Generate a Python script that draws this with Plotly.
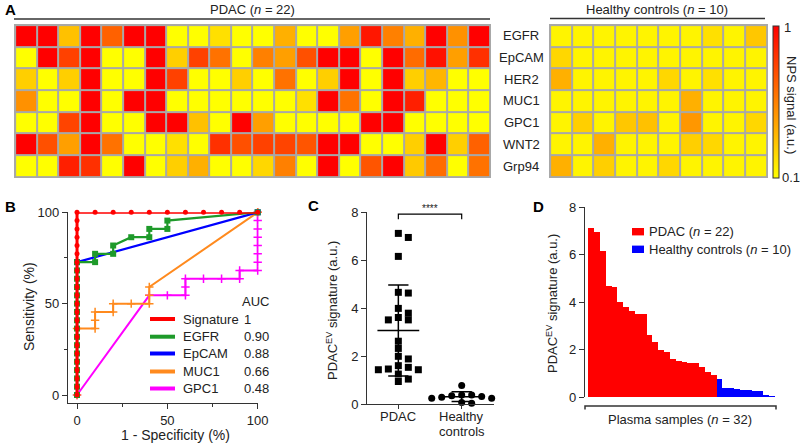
import numpy as np
import plotly.graph_objects as go

W, H = 800, 443


def px(x):
    return x / W


def py(y):
    return 1 - y / H


FONT = "Arial, 'Liberation Sans', sans-serif"
TXT = "#222222"
AX = "#333333"

# ---------------- Panel A data ----------------
MARKERS = ["EGFR", "EpCAM", "HER2", "MUC1", "GPC1", "WNT2", "Grp94"]
PDAC_NPS = [
    [1.0, 1.0, 0.32, 1.0, 0.66, 1.0, 1.0, 0.1, 0.1, 0.21, 0.1, 0.1, 0.38, 0.1, 0.1, 0.44, 0.92, 0.55, 0.38, 1.0, 0.49, 1.0],
    [0.1, 1.0, 0.77, 1.0, 0.1, 0.1, 1.0, 0.27, 0.77, 0.60, 0.1, 0.55, 0.44, 0.72, 1.0, 1.0, 0.1, 1.0, 0.62, 0.94, 0.44, 0.83],
    [0.27, 0.1, 0.27, 1.0, 0.1, 0.1, 1.0, 0.77, 0.1, 0.1, 0.27, 0.1, 0.60, 0.1, 0.27, 1.0, 0.1, 1.0, 0.27, 0.36, 0.1, 0.1],
    [0.49, 0.1, 0.1, 1.0, 0.1, 1.0, 1.0, 0.1, 0.1, 0.1, 0.1, 0.1, 0.1, 0.21, 1.0, 0.60, 0.1, 1.0, 0.89, 0.1, 0.1, 0.1],
    [0.1, 0.1, 0.76, 1.0, 0.1, 0.1, 1.0, 1.0, 0.32, 0.1, 1.0, 0.44, 0.1, 0.1, 0.1, 0.1, 1.0, 1.0, 0.1, 0.1, 0.1, 0.1],
    [1.0, 0.72, 0.44, 1.0, 0.60, 0.1, 0.1, 0.21, 0.1, 0.83, 0.72, 0.77, 0.76, 0.70, 1.0, 1.0, 0.1, 0.1, 0.27, 1.0, 0.27, 0.66],
    [0.1, 0.1, 0.89, 0.83, 0.1, 1.0, 0.1, 0.27, 0.38, 0.1, 0.1, 0.24, 0.55, 0.1, 1.0, 0.1, 0.70, 1.0, 0.29, 0.62, 0.1, 0.60],
]
HEALTHY_NPS = [
    [0.14, 0.14, 0.14, 0.14, 0.14, 0.14, 0.14, 0.21, 0.14, 0.30],
    [0.24, 0.14, 0.14, 0.14, 0.14, 0.14, 0.14, 0.14, 0.14, 0.14],
    [0.38, 0.14, 0.14, 0.14, 0.14, 0.24, 0.14, 0.21, 0.14, 0.14],
    [0.14, 0.14, 0.14, 0.14, 0.14, 0.14, 0.38, 0.14, 0.14, 0.14],
    [0.14, 0.27, 0.14, 0.30, 0.32, 0.14, 0.47, 0.14, 0.14, 0.24],
    [0.14, 0.14, 0.38, 0.14, 0.14, 0.14, 0.27, 0.24, 0.14, 0.14],
    [0.38, 0.14, 0.27, 0.14, 0.14, 0.24, 0.14, 0.14, 0.14, 0.14],
]

# ---------------- Panel B data (ROC steps: false positives of 10, true positives of 22) ----------------
N_CONTROLS = 10
N_PDAC = 22
ROC_NAMES = ["Signature", "EGFR", "EpCAM", "MUC1", "GPC1"]
ROC_AUC = ["1", "0.90", "0.88", "0.66", "0.48"]
ROC_COLORS = ["#FF0000", "#1E9A2A", "#0000FF", "#FF8A1E", "#FF00FF"]
SIG_FP = [0] * 23 + [1, 2, 3, 4, 5, 6, 7, 8, 9, 10]
SIG_TP = [0, 1, 2, 3, 4, 5, 6, 7, 8, 9, 10, 11, 12, 13, 14, 15, 16, 17, 18, 19, 20, 21, 22] + [22] * 10
EGFR_FP = [0] * 17 + [1, 1, 2, 2, 3, 4, 4, 5, 5, 10]
EGFR_TP = [0, 1, 2, 3, 4, 5, 6, 7, 8, 9, 10, 11, 12, 13, 14, 15, 16] + [16, 17, 17, 18, 19, 19, 20, 20, 21, 22]
EPCAM_FP = [0, 0, 10]
EPCAM_TP = [0, 16, 22]
MUC1_FP = [0, 0, 1, 1, 1, 2, 2, 3, 4, 4, 4, 10]
MUC1_TP = [0, 8, 8, 9, 10, 10, 11, 11, 11, 12, 13, 22]
GPC1_FP = [0, 4, 5, 6, 6, 6, 7, 8, 9, 9, 10, 10, 10, 10, 10, 10, 10, 10]
GPC1_TP = [0, 12, 12, 12, 13, 14, 14, 14, 14, 15, 15, 16, 17, 18, 19, 20, 21, 22]

# ---------------- Panels C/D data ----------------
PDAC_SIGNATURE = [7.12, 6.95, 6.16, 4.66, 4.63, 3.99, 3.79, 3.61, 3.51, 3.51, 2.62,
                  2.32, 1.99, 1.88, 1.60, 1.53, 1.46, 1.43, 1.43, 1.25, 1.04, 0.94]
HEALTHY_SIGNATURE = [0.77, 0.38, 0.38, 0.34, 0.31, 0.28, 0.24, 0.24, 0.06, 0.03]
GROUPS = [["PDAC"], ["Healthy", "controls"]]

fig = go.Figure()

# ---------------- Panel A ----------------
fig.add_trace(go.Heatmap(z=PDAC_NPS, x=list(range(len(PDAC_NPS[0]))), y=list(range(len(MARKERS))),
                         coloraxis="coloraxis", xgap=2, ygap=2, xaxis="x", yaxis="y", hoverinfo="skip"))
fig.add_trace(go.Heatmap(z=HEALTHY_NPS, x=list(range(len(HEALTHY_NPS[0]))), y=list(range(len(MARKERS))),
                         coloraxis="coloraxis", xgap=2, ygap=2, xaxis="x2", yaxis="y2", hoverinfo="skip"))

# ---------------- Panel B ----------------
roc_sets = [(SIG_FP, SIG_TP), (EGFR_FP, EGFR_TP), (EPCAM_FP, EPCAM_TP), (MUC1_FP, MUC1_TP), (GPC1_FP, GPC1_TP)]
roc_marker = [dict(symbol="circle", size=5), dict(symbol="square", size=6),
              dict(symbol="square", size=0), dict(symbol="cross-thin", size=6, line=dict(width=1.5, color=ROC_COLORS[3])),
              dict(symbol="cross-thin", size=6, line=dict(width=1.5, color=ROC_COLORS[4]))]
roc_width = [3, 2.2, 2.2, 2, 2]
for i in [4, 3, 2, 1, 0]:
    fp, tp = roc_sets[i]
    m = dict(roc_marker[i])
    m["color"] = ROC_COLORS[i]
    fig.add_trace(go.Scatter(x=[100 * v / N_CONTROLS for v in fp], y=[100 * v / N_PDAC for v in tp],
                             mode="lines+markers", line=dict(color=ROC_COLORS[i], width=roc_width[i]),
                             marker=m, xaxis="x3", yaxis="y3", cliponaxis=False, showlegend=False, hoverinfo="skip"))

# ---------------- Panel C (beeswarm) ----------------
C_PX_X = 63.4   # px per category unit
C_PX_Y = 23.96  # px per signature unit


def swarm(values, step_px=5.0, size_px=5.5):
    order = np.argsort(values)[::-1]
    placed = []
    offs = np.zeros(len(values))
    for idx in order:
        v = values[idx]
        k = 0
        while True:
            cands = [0] if k == 0 else [k, -k]
            ok = None
            for c in cands:
                dx = c * step_px
                if all(not (abs(dx - pdx) < size_px and abs((v - pv) * C_PX_Y) < size_px) for pdx, pv in placed):
                    ok = dx
                    break
            if ok is not None:
                placed.append((ok, v))
                offs[idx] = ok / C_PX_X
                break
            k += 1
    return offs


groups_vals = [np.array(PDAC_SIGNATURE), np.array(HEALTHY_SIGNATURE)]
symbols = ["square", "circle"]
for gi, vals in enumerate(groups_vals):
    offs = swarm(vals)
    fig.add_trace(go.Scatter(x=gi + offs, y=vals, mode="markers",
                             marker=dict(symbol=symbols[gi], size=7, color="black"),
                             xaxis="x4", yaxis="y4", cliponaxis=False, showlegend=False, hoverinfo="skip"))

# ---------------- Panel D ----------------
d_pdac = sorted(PDAC_SIGNATURE, reverse=True)
d_healthy = sorted(HEALTHY_SIGNATURE, reverse=True)
ranks = list(range(1, len(d_pdac) + len(d_healthy) + 1))
fig.add_trace(go.Bar(x=ranks[:len(d_pdac)], y=d_pdac, width=1, marker=dict(color="#FF0000", line=dict(width=0)),
                     xaxis="x5", yaxis="y5", showlegend=False, hoverinfo="skip"))
fig.add_trace(go.Bar(x=ranks[len(d_pdac):], y=d_healthy, width=1, marker=dict(color="#0000FF", line=dict(width=0)),
                     xaxis="x5", yaxis="y5", showlegend=False, hoverinfo="skip"))

shapes = []
ann = []


def text(x, y, s, size=13, xanchor="center", yanchor="middle", angle=0, bold=False, color=TXT):
    ann.append(dict(x=px(x), y=py(y), xref="paper", yref="paper", text=("<b>%s</b>" % s) if bold else s,
                    showarrow=False, xanchor=xanchor, yanchor=yanchor, textangle=angle,
                    font=dict(size=size, family=FONT, color=color)))


def hline(x0, x1, y, width=1.5, color=AX):
    shapes.append(dict(type="line", xref="paper", yref="paper", x0=px(x0), x1=px(x1), y0=py(y), y1=py(y),
                       line=dict(color=color, width=width)))


# heatmap gray grid backgrounds
for xr, yr in [("x", "y"), ("x2", "y2")]:
    shapes.append(dict(type="rect", xref=xr + " domain", yref=yr + " domain", x0=0, x1=1, y0=0, y1=1,
                       fillcolor="#A8A8A8", line=dict(width=0), layer="below"))

text(252, 10, "PDAC (<i>n</i> = 22)")
hline(14, 490, 19)
text(657, 10, "Healthy controls (<i>n</i> = 10)")
hline(550, 765, 18.5)
for i, mk in enumerate(MARKERS):
    ann.append(dict(x=px(521), y=i, xref="paper", yref="y", text=mk, showarrow=False, xanchor="center",
                    yanchor="middle", font=dict(size=13, family=FONT, color=TXT)))
text(792, 105, "NPS signal (a.u.)", angle=90)
text(781.5, 28, "1", xanchor="left")
text(779.5, 177, "0.1", xanchor="left")

# panel letters
text(3, 10, "A", size=15, xanchor="left", bold=True, color="black")
text(3, 207, "B", size=15, xanchor="left", bold=True, color="black")
text(306, 205, "C", size=15, xanchor="left", bold=True, color="black")
text(531, 207, "D", size=15, xanchor="left", bold=True, color="black")

# Panel B legend
leg_y = [319, 336.7, 353.5, 371.5, 388.5]
text(240, 301, "AUC", xanchor="left")
for i, nm in enumerate(ROC_NAMES):
    hline(150, 175, leg_y[i], width=4, color=ROC_COLORS[i])
    text(181, leg_y[i], nm, xanchor="left")
    text(242, leg_y[i], ROC_AUC[i], xanchor="left")
text(175, 434.5, "1 - Specificity (%)", size=14)
text(29, 306, "Sensitivity (%)", angle=-90, size=14)

# Panel C extras
for gi, vals in enumerate(groups_vals):
    m = float(np.mean(vals))
    sd = float(np.std(vals, ddof=1))
    for (a, b, y0, y1) in [(gi - 0.33, gi + 0.33, m, m), (gi - 0.16, gi + 0.16, m + sd, m + sd),
                           (gi - 0.16, gi + 0.16, m - sd, m - sd), (gi, gi, m - sd, m + sd)]:
        shapes.append(dict(type="line", xref="x4", yref="y4", x0=a, x1=b, y0=y0, y1=y1,
                           line=dict(color="black", width=1.5)))
    for li, line_txt in enumerate(GROUPS[gi]):
        ann.append(dict(x=gi, y=py(416 + 15 * li), xref="x4", yref="paper", text=line_txt, showarrow=False,
                        xanchor="center", yanchor="middle", font=dict(size=13, family=FONT, color=TXT)))
br_top = max(PDAC_SIGNATURE) + 0.8
shapes.append(dict(type="path", xref="x4", yref="y4",
                   path="M 0,%.3f L 0,%.3f L 1,%.3f L 1,%.3f" % (br_top - 0.21, br_top, br_top, br_top - 0.21),
                   line=dict(color="black", width=1.2)))
ann.append(dict(x=0.5, y=br_top, xref="x4", yref="y4", text="****", showarrow=False, yanchor="bottom",
                yshift=-2, font=dict(size=10, family=FONT, color=TXT)))
text(332, 311, "PDAC<sup>EV</sup> signature (a.u.)", angle=-90)

# Panel D extras
shapes.append(dict(type="path", xref="paper", yref="paper",
                   path="M %f,%f L %f,%f L %f,%f L %f,%f" % (px(585), py(409.5), px(585), py(406),
                                                               px(776), py(406), px(776), py(409.5)),
                   line=dict(color=AX, width=1.5)))
text(680, 419, "Plasma samples (<i>n</i> = 32)")
text(552, 304, "PDAC<sup>EV</sup> signature (a.u.)", angle=-90)
for yy, col, lab in [(231.7, "#FF0000", "PDAC (<i>n</i> = 22)"), (249.3, "#0000FF", "Healthy controls (<i>n</i> = 10)")]:
    shapes.append(dict(type="rect", xref="paper", yref="paper", x0=px(632), x1=px(644), y0=py(yy + 3.7),
                       y1=py(yy - 3.7), fillcolor=col, line=dict(width=0)))
    text(647, yy, lab, xanchor="left")

axis_common = dict(showline=True, linecolor=AX, linewidth=1.4, ticks="outside", ticklen=5, tickwidth=1.4,
                   tickcolor=AX, showgrid=False, zeroline=False, tickfont=dict(size=13, family=FONT, color=TXT))

fig.update_layout(
    width=W, height=H, margin=dict(l=0, r=0, t=0, b=0, autoexpand=False),
    paper_bgcolor="white", plot_bgcolor="white", showlegend=False, bargap=0,
    font=dict(family=FONT, size=13, color=TXT),
    coloraxis=dict(cmin=0.1, cmax=1, colorscale=[[0, "#FFFF00"], [0.5, "#FF8000"], [1, "#FF0000"]],
                   colorbar=dict(x=px(773.3), xanchor="left", thickness=6, thicknessmode="pixels",
                                 len=152 / H, lenmode="fraction", y=py(25.7), yanchor="top",
                                 outlinewidth=1, outlinecolor="#333333", showticklabels=False,
                                 ticks="", xpad=0, ypad=0)),
    xaxis=dict(domain=[px(14), px(491)], range=[-0.55, 21.55], visible=False, anchor="y"),
    yaxis=dict(domain=[py(178), py(24)], range=[6.55, -0.55], visible=False, anchor="x"),
    xaxis2=dict(domain=[px(549), px(768)], range=[-0.55, 9.55], visible=False, anchor="y2"),
    yaxis2=dict(domain=[py(178), py(24)], range=[6.55, -0.55], visible=False, anchor="x2"),
    xaxis3=dict(domain=[px(68), px(257.7)], range=[-5, 100], tickvals=[0, 50, 100], anchor="y3",
                minor=dict(tickvals=[25, 75], ticks="outside", ticklen=3, tickcolor=AX, tickwidth=1.4),
                **axis_common),
    yaxis3=dict(domain=[py(403), py(212.3)], range=[-4.38, 100], tickvals=[0, 50, 100], anchor="x3",
                minor=dict(tickvals=[25, 75], ticks="outside", ticklen=3, tickcolor=AX, tickwidth=1.4),
                **axis_common),
    xaxis4=dict(domain=[px(367.3), px(494)], range=[-0.49, 1.51], tickvals=[0, 1], showticklabels=False,
                anchor="y4", **{**axis_common, "ticklen": 4}),
    yaxis4=dict(domain=[py(404), py(212.3)], range=[0, 8], tickvals=[0, 2, 4, 6, 8], anchor="x4", **axis_common),
    xaxis5=dict(domain=[px(585), px(775)], range=[-0.066, 32.5], visible=False, anchor="y5"),
    yaxis5=dict(domain=[py(397.3), py(207.3)], range=[0, 8], tickvals=[0, 2, 4, 6, 8], anchor="x5", **axis_common),
    shapes=shapes, annotations=ann,
)

fig.write_html("out.html", config={"displayModeBar": False},
               post_script="document.body.style.margin='0';document.body.style.padding='0';")
